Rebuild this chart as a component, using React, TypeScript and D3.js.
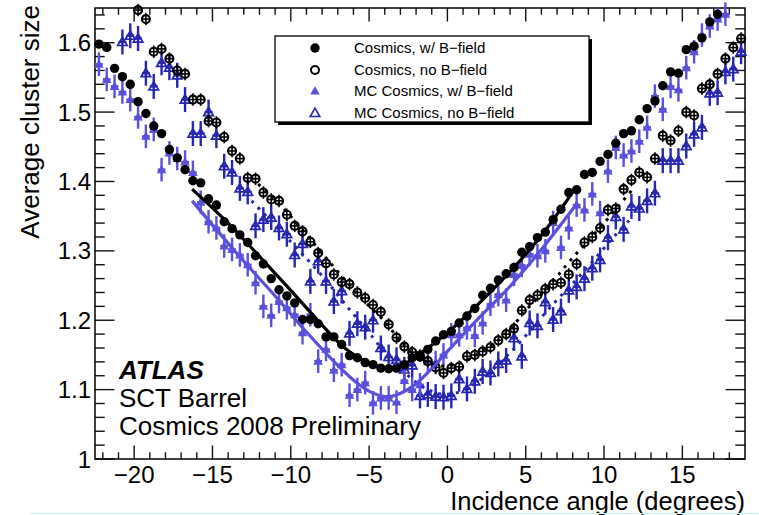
import React, { useEffect, useRef } from "react";
import * as d3 from "d3";

// bin centres of the incidence angle (degrees)
const angles = [
  -22.25, -21.75, -21.25, -20.75, -20.25, -19.75, -19.25, -18.75, -18.25, -17.75,
  -17.25, -16.75, -16.25, -15.75, -15.25, -14.75, -14.25, -13.75, -13.25, -12.75,
  -12.25, -11.75, -11.25, -10.75, -10.25, -9.75, -9.25, -8.75, -8.25, -7.75,
  -7.25, -6.75, -6.25, -5.75, -5.25, -4.75, -4.25, -3.75, -3.25, -2.75,
  -2.25, -1.75, -1.25, -0.75, -0.25, 0.25, 0.75, 1.25, 1.75, 2.25,
  2.75, 3.25, 3.75, 4.25, 4.75, 5.25, 5.75, 6.25, 6.75, 7.25,
  7.75, 8.25, 8.75, 9.25, 9.75, 10.25, 10.75, 11.25, 11.75, 12.25,
  12.75, 13.25, 13.75, 14.25, 14.75, 15.25, 15.75, 16.25, 16.75, 17.25,
  17.75, 18.25, 18.75,
];

// Cosmics, w/ B-field
const dataWithB = [
  1.598, 1.593, 1.563, 1.551, 1.54, 1.515, 1.498, 1.48, 1.469, 1.446,
  1.434, 1.417, 1.401, 1.398, 1.375, 1.366, 1.342, 1.332, 1.323, 1.312,
  1.293, 1.281, 1.26, 1.244, 1.235, 1.225, 1.201, 1.201, 1.195, 1.176,
  1.176, 1.165, 1.149, 1.146, 1.139, 1.136, 1.131, 1.13, 1.131, 1.136,
  1.146, 1.147, 1.158, 1.17, 1.179, 1.184, 1.196, 1.206, 1.217, 1.236,
  1.246, 1.258, 1.267, 1.276, 1.298, 1.306, 1.319, 1.327, 1.345, 1.36,
  1.384, 1.388, 1.41, 1.413, 1.429, 1.439, 1.455, 1.469, 1.473, 1.489,
  1.505, 1.516, 1.538, 1.558, 1.556, 1.59, 1.595, 1.607, 1.63, 1.641,
  null, null, null,
];

// Cosmics, no B-field
const dataNoB = [
  null, null, null, null, null, 1.647, 1.634, 1.587, 1.591, 1.577,
  1.56, 1.555, 1.518, 1.518, 1.487, 1.485, 1.464, 1.444, 1.433, 1.405,
  1.404, 1.384, 1.374, 1.372, 1.352, 1.336, 1.328, 1.313, 1.297, 1.282,
  1.266, 1.255, 1.252, 1.24, 1.232, 1.222, 1.212, 1.194, 1.175, 1.162,
  1.154, 1.149, 1.141, 1.132, 1.124, 1.131, 1.133, 1.148, 1.15, 1.155,
  1.161, 1.171, 1.18, 1.188, 1.214, 1.229, 1.236, 1.245, 1.252, 1.254,
  1.266, 1.281, 1.312, 1.32, 1.333, 1.359, 1.361, 1.389, 1.402, 1.413,
  1.406, 1.433, 1.466, 1.459, 1.473, 1.5, 1.495, 1.534, 1.54, 1.555,
  1.577, 1.593, 1.606,
];

// MC Cosmics, w/ B-field
const mcWithB = [
  1.569, 1.547, 1.537, 1.529, 1.518, 1.493, 1.465, 1.475, 1.417, 1.441,
  1.433, 1.428, 1.413, 1.37, 1.342, 1.333, 1.307, 1.302, 1.294, 1.28,
  1.254, 1.22, 1.207, 1.227, 1.218, 1.208, 1.182, 1.208, 1.141, 1.158,
  1.128, 1.136, 1.092, 1.1, 1.11, 1.081, 1.088, 1.088, 1.082, 1.113,
  1.1, 1.107, 1.14, 1.139, 1.15, 1.179, 1.179, 1.189, 1.178, 1.196,
  1.223, 1.237, 1.229, 1.266, 1.279, 1.295, 1.293, 1.3, 1.341, 1.305,
  1.333, 1.366, 1.359, 1.382, 1.355, 1.415, 1.449, 1.438, 1.444, 1.458,
  1.478, 1.523, 1.504, 1.537, 1.532, 1.564, 1.587, 1.611, 1.624, 1.634,
  1.641, null, null,
];

// MC Cosmics, no B-field
const mcNoB = [
  null, null, null, 1.601, 1.61, 1.606, 1.556, 1.537, 1.571, 1.564,
  1.553, 1.518, 1.469, 1.469, 1.5, 1.466, 1.422, 1.413, 1.39, 1.385,
  1.336, 1.345, 1.348, 1.333, 1.324, 1.294, 1.31, 1.256, 1.285, 1.256,
  1.227, 1.242, 1.181, 1.195, 1.19, 1.2, 1.16, 1.147, 1.143, 1.129,
  1.135, 1.091, 1.093, 1.09, 1.089, 1.091, 1.115, 1.101, 1.112, 1.126,
  1.124, 1.137, 1.142, 1.174, 1.148, 1.196, 1.192, 1.226, 1.201, 1.213,
  1.243, 1.248, 1.26, 1.275, 1.287, 1.319, 1.349, 1.331, 1.364, 1.361,
  1.372, 1.383, 1.43, 1.43, 1.43, 1.451, 1.468, 1.478, 1.527, 1.528,
  1.558, 1.562, 1.587,
];

// fitted curves: [angle, cluster size]
const fitDataWithB = [
  [-16.3, 1.389], [-14, 1.34], [-12, 1.292], [-10, 1.243], [-8, 1.193],
  [-6.5, 1.159], [-5, 1.138], [-4, 1.131], [-3, 1.134], [-2, 1.148],
  [0, 1.182], [2, 1.224], [4, 1.27], [6, 1.322], [8.2, 1.391],
];
const fitMcWithB = [
  [-16.3, 1.372], [-13.2, 1.29], [-11, 1.235], [-9, 1.183], [-7, 1.135],
  [-5.8, 1.11], [-4.75, 1.095], [-4, 1.09], [-3.3, 1.092], [-2.2, 1.105],
  [-1.1, 1.128], [0, 1.155], [2, 1.203], [4, 1.249], [6, 1.302], [8.2, 1.366],
];
const fitDataNoB = [
  [-12.5, 1.405], [-10.5, 1.362], [-8.5, 1.31], [-7, 1.27], [-5.5, 1.232],
  [-4, 1.198], [-3, 1.17], [-2, 1.148], [-1, 1.137], [0, 1.134], [1, 1.14],
  [2, 1.152], [3, 1.166], [4, 1.187], [5, 1.214], [6.5, 1.25], [8, 1.29],
  [10, 1.34], [11.8, 1.388],
];
const fitMcNoB = [
  [-12.5, 1.372], [-10, 1.313], [-8, 1.264], [-6.3, 1.217], [-4.75, 1.175],
  [-3.9, 1.15], [-2.4, 1.118], [-1.5, 1.103], [-0.5, 1.094], [0.5, 1.095],
  [1.5, 1.105], [2.5, 1.121], [3.5, 1.142], [4.7, 1.17], [6.7, 1.222],
  [8.7, 1.27], [10.7, 1.322], [11.7, 1.346],
];

const xTicks = [-20, -15, -10, -5, 0, 5, 10, 15];
const yTicks = [1, 1.1, 1.2, 1.3, 1.4, 1.5, 1.6];
const yTickLabels = ["1", "1.1", "1.2", "1.3", "1.4", "1.5", "1.6"];
const legendLabels = [
  "Cosmics, w/ B\u2212field",
  "Cosmics, no B\u2212field",
  "MC Cosmics, w/ B\u2212field",
  "MC Cosmics, no B\u2212field",
];

const PURPLE = "#5a50dc";
const BLUE = "#2626b0";
const FONT = "'Liberation Sans', Arial, Helvetica, sans-serif";

const App = () => {
  const ref = useRef<SVGSVGElement>(null);
  const W = 759;
  const H = 515;
  const frame = { left: 95, right: 745, top: 8, bottom: 459 };

  useEffect(() => {
    drawChart();
  }, []);

  function drawChart() {
    const svg = d3.select(ref.current);
    svg.selectAll("*").remove();

    const x = d3.scaleLinear().domain([-22.5, 19]).range([frame.left, frame.right]);
    const y = d3.scaleLinear().domain([1, 1.65]).range([frame.bottom, frame.top]);

    svg.append("rect").attr("width", W).attr("height", H).attr("fill", "white");

    // ticks on all four sides, pointing inwards
    const axes = svg.append("g").attr("stroke", "#111").attr("stroke-width", 1.4);
    const plotH = frame.bottom - frame.top;
    const plotW = frame.right - frame.left;
    const xMinor = d3.range(-22, 19, 1);
    xMinor.forEach((t) => {
      const major = xTicks.includes(t);
      const len = (major ? 0.03 : 0.015) * plotH;
      axes.append("line").attr("x1", x(t)).attr("x2", x(t))
        .attr("y1", frame.bottom).attr("y2", frame.bottom - len);
      axes.append("line").attr("x1", x(t)).attr("x2", x(t))
        .attr("y1", frame.top).attr("y2", frame.top + len);
    });
    const yMinor = d3.range(0, 33).map((i) => 1 + i * 0.02);
    yMinor.forEach((t, i) => {
      const major = i % 5 === 0;
      const len = (major ? 0.03 : 0.015) * plotW;
      axes.append("line").attr("x1", frame.left).attr("x2", frame.left + len)
        .attr("y1", y(t)).attr("y2", y(t));
      axes.append("line").attr("x1", frame.right).attr("x2", frame.right - len)
        .attr("y1", y(t)).attr("y2", y(t));
    });

    svg.append("rect")
      .attr("x", frame.left).attr("y", frame.top)
      .attr("width", plotW).attr("height", plotH)
      .attr("fill", "none").attr("stroke", "black").attr("stroke-width", 1.5);

    // tick labels
    svg.append("g").selectAll("text").data(xTicks).join("text")
      .attr("x", (d) => x(d)).attr("y", 482.5)
      .attr("text-anchor", "middle")
      .attr("font-family", FONT).attr("font-size", 24)
      .text((d) => (d < 0 ? "\u2212" + Math.abs(d) : String(d)));
    svg.append("g").selectAll("text").data(yTicks).join("text")
      .attr("x", 91).attr("y", (d) => y(d))
      .attr("dy", "0.36em")
      .attr("text-anchor", "end")
      .attr("font-family", FONT).attr("font-size", 24)
      .text((d, i) => yTickLabels[i]);

    // axis titles
    svg.append("text")
      .attr("x", frame.right).attr("y", 509.7)
      .attr("text-anchor", "end")
      .attr("font-family", FONT).attr("font-size", 25.5)
      .text("Incidence angle (degrees)");
    svg.append("text")
      .attr("transform", "translate(39,5) rotate(-90)")
      .attr("text-anchor", "end")
      .attr("font-family", FONT).attr("font-size", 26)
      .text("Average cluster size");

    const points = (vals: (number | null)[]) =>
      angles.map((a, i) => ({ a, v: vals[i] })).filter((d) => d.v != null) as { a: number; v: number }[];

    const triangle = "M0,-4.8L4.8,3.5L-4.8,3.5Z";

    function errorBars(g: any, pts: { a: number; v: number }[], err: number, color: string, width: number) {
      g.selectAll(null).data(pts).join("line")
        .attr("x1", (d: any) => x(d.a)).attr("x2", (d: any) => x(d.a))
        .attr("y1", (d: any) => y(d.v - err)).attr("y2", (d: any) => y(d.v + err))
        .attr("stroke", color).attr("stroke-width", width);
      g.selectAll(null).data(pts).join("line")
        .attr("x1", (d: any) => x(d.a - 0.25)).attr("x2", (d: any) => x(d.a + 0.25))
        .attr("y1", (d: any) => y(d.v)).attr("y2", (d: any) => y(d.v))
        .attr("stroke", color).attr("stroke-width", width);
    }

    // MC, no B-field: open triangles
    const gMcNoB = svg.append("g");
    const ptsMcNoB = points(mcNoB);
    errorBars(gMcNoB, ptsMcNoB, 0.018, BLUE, 2.4);
    gMcNoB.selectAll("path").data(ptsMcNoB).join("path")
      .attr("d", triangle)
      .attr("transform", (d) => `translate(${x(d.a)},${y(d.v)})`)
      .attr("fill", "none")
      .attr("stroke", BLUE).attr("stroke-width", 1.7);

    // MC, w/ B-field: filled triangles
    const gMcB = svg.append("g");
    const ptsMcB = points(mcWithB);
    errorBars(gMcB, ptsMcB, 0.017, PURPLE, 2.4);
    gMcB.selectAll("path").data(ptsMcB).join("path")
      .attr("d", triangle)
      .attr("transform", (d) => `translate(${x(d.a)},${y(d.v)})`)
      .attr("fill", PURPLE);

    // data, no B-field: open circles
    const gNoB = svg.append("g");
    const ptsNoB = points(dataNoB);
    errorBars(gNoB, ptsNoB, 0.009, "black", 1.6);
    gNoB.selectAll("circle").data(ptsNoB).join("circle")
      .attr("cx", (d) => x(d.a)).attr("cy", (d) => y(d.v)).attr("r", 4)
      .attr("fill", "none").attr("stroke", "black").attr("stroke-width", 2.1);

    // data, w/ B-field: filled circles
    const gB = svg.append("g");
    const ptsB = points(dataWithB);
    errorBars(gB, ptsB, 0.005, "black", 1.5);
    gB.selectAll("circle").data(ptsB).join("circle")
      .attr("cx", (d) => x(d.a)).attr("cy", (d) => y(d.v)).attr("r", 4.7)
      .attr("fill", "black");

    // fits
    const line = d3.line<number[]>()
      .x((d) => x(d[0])).y((d) => y(d[1]))
      .curve(d3.curveCatmullRom);
    svg.append("path").datum(fitMcNoB).attr("d", line)
      .attr("fill", "none").attr("stroke", BLUE).attr("stroke-width", 3)
      .attr("stroke-dasharray", "3 6");
    svg.append("path").datum(fitDataNoB).attr("d", line)
      .attr("fill", "none").attr("stroke", "black").attr("stroke-width", 3)
      .attr("stroke-dasharray", "3 6");
    svg.append("path").datum(fitMcWithB).attr("d", line)
      .attr("fill", "none").attr("stroke", PURPLE).attr("stroke-width", 3.2);
    svg.append("path").datum(fitDataWithB).attr("d", line)
      .attr("fill", "none").attr("stroke", "black").attr("stroke-width", 3.2);

    // ATLAS label
    const lbl = svg.append("g").attr("font-family", FONT).attr("font-size", 26);
    lbl.append("text").attr("x", 119).attr("y", 379)
      .attr("font-weight", "bold").attr("font-style", "italic").text("ATLAS");
    lbl.append("text").attr("x", 119).attr("y", 407).text("SCT Barrel");
    lbl.append("text").attr("x", 119).attr("y", 435).text("Cosmics 2008 Preliminary");

    // legend
    const lg = { x: 275, y: 36, w: 314, h: 86 };
    svg.append("rect").attr("x", lg.x + 3).attr("y", lg.y + 3)
      .attr("width", lg.w).attr("height", lg.h).attr("fill", "black");
    svg.append("rect").attr("x", lg.x).attr("y", lg.y)
      .attr("width", lg.w).attr("height", lg.h)
      .attr("fill", "white").attr("stroke", "black").attr("stroke-width", 1.3);
    const rowY = [48, 70, 91, 113];
    const mx = 315;
    svg.append("circle").attr("cx", mx).attr("cy", rowY[0]).attr("r", 4.7).attr("fill", "black");
    svg.append("circle").attr("cx", mx).attr("cy", rowY[1]).attr("r", 4)
      .attr("fill", "none").attr("stroke", "black").attr("stroke-width", 2);
    svg.append("path").attr("d", triangle).attr("transform", `translate(${mx},${rowY[2]})`)
      .attr("fill", PURPLE);
    svg.append("path").attr("d", triangle).attr("transform", `translate(${mx},${rowY[3]})`)
      .attr("fill", "none").attr("stroke", BLUE).attr("stroke-width", 1.6);
    svg.append("g").selectAll("text").data(legendLabels).join("text")
      .attr("x", 354).attr("y", (d, i) => rowY[i]).attr("dy", "0.36em")
      .attr("font-family", FONT).attr("font-size", 15)
      .text((d) => d);

    // faint cyan rule at the bottom edge of the picture
    svg.append("line").attr("x1", 30).attr("x2", W).attr("y1", 513.5).attr("y2", 513.5)
      .attr("stroke", "#c4f3f7").attr("stroke-width", 1);
  }

  return (
    <svg
      ref={ref}
      width={W}
      height={H}
      style={{ position: "absolute", left: 0, top: 0 }}
    />
  );
};

export default App;
